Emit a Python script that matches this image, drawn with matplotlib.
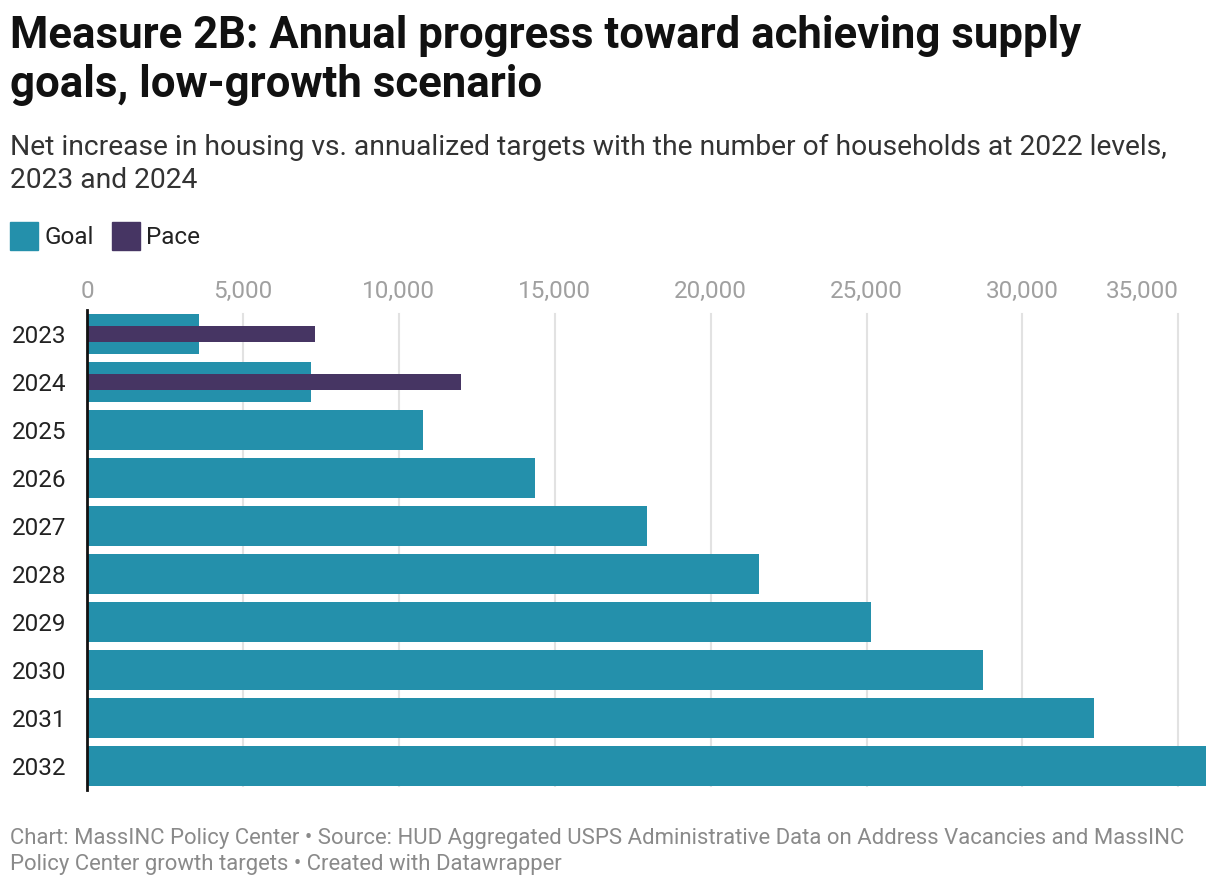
import matplotlib.pyplot as plt
from matplotlib.patches import Rectangle
import numpy as np

# Data
years = ['2023', '2024', '2025', '2026', '2027', '2028', '2029', '2030', '2031', '2032']
goal = [3590, 7180, 10770, 14360, 17950, 21540, 25130, 28720, 32310, 35900]
pace_years = ['2023', '2024']
pace = [7300, 11980]
ticks = [0, 5000, 10000, 15000, 20000, 25000, 30000, 35000]

goal_color = '#2490ab'
pace_color = '#463563'

plt.rcParams['font.family'] = ['Roboto', 'DejaVu Sans']

W, H = 1220, 888
fig = plt.figure(figsize=(W / 100, H / 100), dpi=100)

def fx(px):
    return px / W

def fy(py):
    return 1 - py / H

# Title, subtitle
fig.text(fx(10), fy(36), 'Measure 2B: Annual progress toward achieving supply',
         fontsize=31.5, fontweight='bold', va='center', ha='left', color='#111111')
fig.text(fx(10), fy(85), 'goals, low-growth scenario',
         fontsize=31.5, fontweight='bold', va='center', ha='left', color='#111111')
fig.text(fx(10), fy(147), 'Net increase in housing vs. annualized targets with the number of households at 2022 levels,',
         fontsize=20.3, va='center', ha='left', color='#333333')
fig.text(fx(10), fy(181), '2023 and 2024',
         fontsize=20.3, va='center', ha='left', color='#333333')

# Legend
for x0, label, col in [(10, 'Goal', goal_color), (112, 'Pace', pace_color)]:
    fig.patches.append(Rectangle((fx(x0), fy(250)), fx(28), 28 / H,
                                 transform=fig.transFigure, color=col))
    fig.text(fx(x0 + 34), fy(237), label, fontsize=17.5, va='center', ha='left', color='#222222')

# Bars
ax = fig.add_axes([fx(87), fy(790), fx(1208 - 87), (790 - 310) / H])
ypos = np.arange(len(years))
ax.barh(ypos, goal, height=40 / 48, color=goal_color, zorder=2)
pace_pos = [years.index(y) for y in pace_years]
ax.barh(pace_pos, pace, height=16 / 48, color=pace_color, zorder=3)

ax.set_xlim(0, 35950)
ax.set_ylim(len(years) - 0.5, -0.5)
ax.set_yticks(ypos)
ax.set_yticklabels(years, fontsize=17.5, color='#222222')
ax.xaxis.tick_top()
ax.tick_params(axis='both', length=0)
ax.tick_params(axis='x', pad=5)
ax.tick_params(axis='y', pad=15)
ax.set_xticks(ticks)
ax.set_xticklabels([f'{t:,}' for t in ticks], fontsize=17.5, color='#a0a0a0')

for t in ticks[1:]:
    ax.plot([t, t], [len(years) - 0.58, -0.42], color='#e2e2e2', lw=1.5, zorder=1)

for s in ['top', 'right', 'bottom']:
    ax.spines[s].set_visible(False)
ax.spines['left'].set_color('#111111')
ax.spines['left'].set_linewidth(2)
ax.spines['left'].set_zorder(4)

# Footer
fig.text(fx(10), fy(838), 'Chart: MassINC Policy Center \u2022 Source: HUD Aggregated USPS Administrative Data on Address Vacancies and MassINC',
         fontsize=15.9, va='center', ha='left', color='#8a8a8a')
fig.text(fx(10), fy(864), 'Policy Center growth targets \u2022 Created with Datawrapper',
         fontsize=15.9, va='center', ha='left', color='#8a8a8a')

# last tick label sits flush left of its gridline
fig.canvas.draw()
ax.xaxis.get_major_ticks()[-1].label2.set_horizontalalignment('right')

fig.savefig('out.png', dpi=100)
